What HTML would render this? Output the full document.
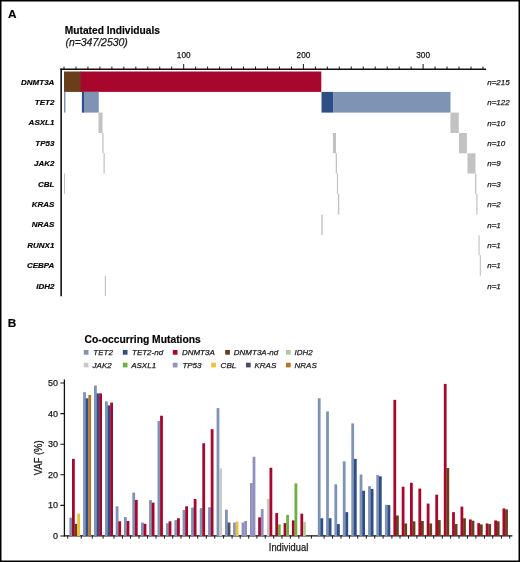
<!DOCTYPE html>
<html lang="en"><head><meta charset="utf-8"><title>Figure</title>
<style>html,body{margin:0;padding:0;background:#fff}svg{display:block}text{stroke:#1a1a1a;stroke-width:2.5px;stroke-linejoin:round}text[font-weight=bold]{stroke-width:2px}</style></head>
<body>
<svg width="520" height="562" viewBox="0 0 520 562">
<rect x="0" y="0" width="520" height="562" fill="#fff"/>
<rect x="0.75" y="0.75" width="518.5" height="560.5" fill="none" stroke="#000" stroke-width="1.5"/>
<g font-family="Liberation Sans, Arial, Helvetica, sans-serif" fill="#1a1a1a">
<text transform="translate(8.1 18.4) scale(.1)" font-size="118" font-weight="bold" fill="#000">A</text>
<text transform="translate(7.8 327.3) scale(.1)" font-size="118" font-weight="bold" fill="#000">B</text>
<text transform="translate(64.8 33.6) scale(.1)" font-size="102" font-weight="bold" fill="#000">Mutated Individuals</text>
<text transform="translate(65.4 46) scale(.1)" font-size="105" font-style="italic" textLength="624.0" lengthAdjust="spacingAndGlyphs">(n=347/2530)</text>
<g stroke="#111" fill="none">
<path d="M61.15 68.6V296.3" stroke-width="1.6"/>
<path d="M60.35 69.25H486" stroke-width="1.3"/>
<path d="M64.00 66.6V69.3M75.97 66.6V69.3M87.94 66.6V69.3M99.91 66.6V69.3M111.88 66.6V69.3M123.85 66.6V69.3M135.82 66.6V69.3M147.79 66.6V69.3M159.76 66.6V69.3M171.73 66.6V69.3M183.70 64V69.3M195.67 66.6V69.3M207.64 66.6V69.3M219.61 66.6V69.3M231.58 66.6V69.3M243.55 66.6V69.3M255.52 66.6V69.3M267.49 66.6V69.3M279.46 66.6V69.3M291.43 66.6V69.3M303.40 64V69.3M315.37 66.6V69.3M327.34 66.6V69.3M339.31 66.6V69.3M351.28 66.6V69.3M363.25 66.6V69.3M375.22 66.6V69.3M387.19 66.6V69.3M399.16 66.6V69.3M411.13 66.6V69.3M423.10 64V69.3M435.07 66.6V69.3M447.04 66.6V69.3M459.01 66.6V69.3M470.98 66.6V69.3M482.95 66.6V69.3" stroke-width="1"/>
</g>
<text transform="translate(183.70 58.1) scale(.1)" font-size="82" text-anchor="middle">100</text>
<text transform="translate(303.40 58.1) scale(.1)" font-size="82" text-anchor="middle">200</text>
<text transform="translate(423.10 58.1) scale(.1)" font-size="82" text-anchor="middle">300</text>
<text transform="translate(54.4 84.50) scale(.1)" font-size="80" font-weight="bold" font-style="italic" text-anchor="end" fill="#000">DNMT3A</text>
<text transform="translate(487.2 84.70) scale(.1)" font-size="80" font-style="italic">n=215</text>
<text transform="translate(54.4 104.90) scale(.1)" font-size="80" font-weight="bold" font-style="italic" text-anchor="end" fill="#000">TET2</text>
<text transform="translate(487.2 105.10) scale(.1)" font-size="80" font-style="italic">n=122</text>
<text transform="translate(54.4 125.30) scale(.1)" font-size="80" font-weight="bold" font-style="italic" text-anchor="end" fill="#000">ASXL1</text>
<text transform="translate(487.2 125.50) scale(.1)" font-size="80" font-style="italic">n=10</text>
<text transform="translate(54.4 145.70) scale(.1)" font-size="80" font-weight="bold" font-style="italic" text-anchor="end" fill="#000">TP53</text>
<text transform="translate(487.2 145.90) scale(.1)" font-size="80" font-style="italic">n=10</text>
<text transform="translate(54.4 166.10) scale(.1)" font-size="80" font-weight="bold" font-style="italic" text-anchor="end" fill="#000">JAK2</text>
<text transform="translate(487.2 166.30) scale(.1)" font-size="80" font-style="italic">n=9</text>
<text transform="translate(54.4 186.50) scale(.1)" font-size="80" font-weight="bold" font-style="italic" text-anchor="end" fill="#000">CBL</text>
<text transform="translate(487.2 186.70) scale(.1)" font-size="80" font-style="italic">n=3</text>
<text transform="translate(54.4 206.90) scale(.1)" font-size="80" font-weight="bold" font-style="italic" text-anchor="end" fill="#000">KRAS</text>
<text transform="translate(487.2 207.10) scale(.1)" font-size="80" font-style="italic">n=2</text>
<text transform="translate(54.4 227.30) scale(.1)" font-size="80" font-weight="bold" font-style="italic" text-anchor="end" fill="#000">NRAS</text>
<text transform="translate(487.2 227.50) scale(.1)" font-size="80" font-style="italic">n=1</text>
<text transform="translate(54.4 247.70) scale(.1)" font-size="80" font-weight="bold" font-style="italic" text-anchor="end" fill="#000">RUNX1</text>
<text transform="translate(487.2 247.90) scale(.1)" font-size="80" font-style="italic">n=1</text>
<text transform="translate(54.4 268.10) scale(.1)" font-size="80" font-weight="bold" font-style="italic" text-anchor="end" fill="#000">CEBPA</text>
<text transform="translate(487.2 268.30) scale(.1)" font-size="80" font-style="italic">n=1</text>
<text transform="translate(54.4 288.50) scale(.1)" font-size="80" font-weight="bold" font-style="italic" text-anchor="end" fill="#000">IDH2</text>
<text transform="translate(487.2 288.70) scale(.1)" font-size="80" font-style="italic">n=1</text>
<rect x="80" y="71.50" width="241.30" height="20.40" fill="#A7072C"/>
<rect x="64" y="71.50" width="16.70" height="20.40" fill="#6A3E1B"/>
<rect x="64" y="91.90" width="1.50" height="20.70" fill="#7F93B5"/>
<rect x="81.9" y="91.90" width="2.20" height="20.70" fill="#2F4D86"/>
<rect x="84" y="91.90" width="14.75" height="20.70" fill="#7F93B5"/>
<rect x="321.5" y="91.90" width="11.70" height="20.70" fill="#2F4D86"/>
<rect x="333.1" y="91.90" width="117.40" height="20.70" fill="#7F93B5"/>
<rect x="98.5" y="112.60" width="4.00" height="20.40" fill="#C2C2C4"/>
<rect x="450.4" y="112.60" width="8.35" height="20.40" fill="#C2C2C4"/>
<rect x="102.3" y="133.00" width="1.30" height="20.30" fill="#C2C2C4"/>
<rect x="332.9" y="133.00" width="3.10" height="20.30" fill="#C2C2C4"/>
<rect x="459" y="133.00" width="7.90" height="20.30" fill="#C2C2C4"/>
<rect x="103.5" y="153.30" width="1.25" height="20.20" fill="#C2C2C4"/>
<rect x="335.7" y="153.30" width="1.30" height="20.20" fill="#C2C2C4"/>
<rect x="467.5" y="153.30" width="8.00" height="20.20" fill="#C2C2C4"/>
<rect x="64" y="173.50" width="1.00" height="20.30" fill="#C2C2C4"/>
<rect x="336.9" y="173.50" width="1.20" height="20.30" fill="#C2C2C4"/>
<rect x="475.1" y="173.50" width="1.30" height="20.30" fill="#C2C2C4"/>
<rect x="337.9" y="193.80" width="1.40" height="20.90" fill="#C2C2C4"/>
<rect x="476.3" y="193.80" width="1.20" height="20.90" fill="#C2C2C4"/>
<rect x="321.3" y="214.70" width="1.40" height="20.50" fill="#C2C2C4"/>
<rect x="478.5" y="235.20" width="1.10" height="19.90" fill="#C2C2C4"/>
<rect x="479.75" y="255.10" width="1.15" height="20.70" fill="#C2C2C4"/>
<rect x="104.8" y="275.80" width="1.20" height="20.20" fill="#C2C2C4"/>
<text transform="translate(84.6 342.6) scale(.1)" font-size="103" font-weight="bold" fill="#000">Co-occurring Mutations</text>
<rect x="83.8" y="350" width="4.7" height="4.7" fill="#7F93B5"/>
<text transform="translate(93.3 355.1) scale(.1)" font-size="80" font-style="italic">TET2</text>
<rect x="122.8" y="350" width="4.7" height="4.7" fill="#2F4D86"/>
<text transform="translate(132 355.1) scale(.1)" font-size="80" font-style="italic">TET2-nd</text>
<rect x="172.8" y="350" width="4.7" height="4.7" fill="#A7072C"/>
<text transform="translate(181.9 355.1) scale(.1)" font-size="80" font-style="italic">DNMT3A</text>
<rect x="225.2" y="350" width="4.7" height="4.7" fill="#6A3E1B"/>
<text transform="translate(233.8 355.1) scale(.1)" font-size="80" font-style="italic">DNMT3A-nd</text>
<rect x="286" y="350" width="4.7" height="4.7" fill="#B4C79A"/>
<text transform="translate(294.5 355.1) scale(.1)" font-size="80" font-style="italic">IDH2</text>
<rect x="83.8" y="362.7" width="4.7" height="4.7" fill="#C9C9CB"/>
<text transform="translate(92.6 367.6) scale(.1)" font-size="80" font-style="italic">JAK2</text>
<rect x="122.8" y="362.7" width="4.7" height="4.7" fill="#6FAE45"/>
<text transform="translate(131.2 367.6) scale(.1)" font-size="80" font-style="italic">ASXL1</text>
<rect x="172.8" y="362.7" width="4.7" height="4.7" fill="#8F90BD"/>
<text transform="translate(182.4 367.6) scale(.1)" font-size="80" font-style="italic">TP53</text>
<rect x="211.2" y="362.7" width="4.7" height="4.7" fill="#EAC435"/>
<text transform="translate(220.6 367.6) scale(.1)" font-size="80" font-style="italic">CBL</text>
<rect x="246" y="362.7" width="4.7" height="4.7" fill="#4B4E62"/>
<text transform="translate(254.5 367.6) scale(.1)" font-size="80" font-style="italic">KRAS</text>
<rect x="286" y="362.7" width="4.7" height="4.7" fill="#B5752E"/>
<text transform="translate(294.5 367.6) scale(.1)" font-size="80" font-style="italic">NRAS</text>
<g stroke="#111" fill="none">
<path d="M64.4 379.5V536.4" stroke-width="1.3"/>
<path d="M64 535.8H512.4" stroke-width="1.3"/>
<path d="M60.4 536.00H64.4M60.4 505.40H64.4M60.4 474.80H64.4M60.4 444.20H64.4M60.4 413.60H64.4M60.4 383.00H64.4" stroke-width="1.1"/>
<path d="M67.75 535.8V538.7M81.25 535.8V538.7M92.25 535.8V538.7M103.1 535.8V538.7M114 535.8V538.7M122.4 535.8V538.7M130.6 535.8V538.7M139 535.8V538.7M147.6 535.8V538.7M156 535.8V538.7M164.4 535.8V538.7M172.75 535.8V538.7M181 535.8V538.7M189.4 535.8V538.7M197.75 535.8V538.7M206.25 535.8V538.7M214.75 535.8V538.7M223.6 535.8V538.7M232.1 535.8V538.7M240.2 535.8V538.7M248.7 535.8V538.7M256.9 535.8V538.7M265.25 535.8V538.7M273.75 535.8V538.7M282 535.8V538.7M290.4 535.8V538.7M298.8 535.8V538.7M311.4 535.8V538.7M324.1 535.8V538.7M332.5 535.8V538.7M341 535.8V538.7M349.4 535.8V538.7M357.75 535.8V538.7M366.25 535.8V538.7M374.75 535.8V538.7M383.1 535.8V538.7M391.9 535.8V538.7M400 535.8V538.7M408.5 535.8V538.7M416.9 535.8V538.7M425.4 535.8V538.7M433.75 535.8V538.7M442.25 535.8V538.7M450.7 535.8V538.7M459 535.8V538.7M467.5 535.8V538.7M475.9 535.8V538.7M484.4 535.8V538.7M492.75 535.8V538.7M501.4 535.8V538.7M509.75 535.8V538.7" stroke-width="0.95"/>
</g>
<text transform="translate(58 539.00) scale(.1)" font-size="90" text-anchor="end">0</text>
<text transform="translate(58 508.40) scale(.1)" font-size="90" text-anchor="end">10</text>
<text transform="translate(58 477.80) scale(.1)" font-size="90" text-anchor="end">20</text>
<text transform="translate(58 447.20) scale(.1)" font-size="90" text-anchor="end">30</text>
<text transform="translate(58 416.60) scale(.1)" font-size="90" text-anchor="end">40</text>
<text transform="translate(58 386.00) scale(.1)" font-size="90" text-anchor="end">50</text>
<text transform="translate(42.2 457.8) rotate(-90) scale(.1)" font-size="100" text-anchor="middle" textLength="348.0" lengthAdjust="spacingAndGlyphs">VAF (%)</text>
<text transform="translate(288.5 551.3) scale(.1)" font-size="100" text-anchor="middle" textLength="394.0" lengthAdjust="spacingAndGlyphs">Individual</text>
<rect x="69.40" y="517.64" width="2.8" height="18.36" fill="#7F93B5"/>
<rect x="72.00" y="458.89" width="2.8" height="77.11" fill="#A7072C"/>
<rect x="74.60" y="523.76" width="2.8" height="12.24" fill="#6A3E1B"/>
<rect x="77.20" y="513.66" width="2.8" height="22.34" fill="#EAC435"/>
<rect x="83.10" y="392.18" width="2.8" height="143.82" fill="#7F93B5"/>
<rect x="85.70" y="398.30" width="2.8" height="137.70" fill="#2F4D86"/>
<rect x="88.30" y="394.93" width="2.8" height="141.07" fill="#B5752E"/>
<rect x="94.00" y="385.45" width="2.8" height="150.55" fill="#7F93B5"/>
<rect x="96.60" y="393.40" width="2.8" height="142.60" fill="#2F4D86"/>
<rect x="99.20" y="393.40" width="2.8" height="142.60" fill="#A7072C"/>
<rect x="105.00" y="401.36" width="2.8" height="134.64" fill="#7F93B5"/>
<rect x="107.60" y="405.34" width="2.8" height="130.66" fill="#2F4D86"/>
<rect x="110.20" y="402.58" width="2.8" height="133.42" fill="#A7072C"/>
<rect x="115.70" y="506.32" width="2.8" height="29.68" fill="#7F93B5"/>
<rect x="118.30" y="521.31" width="2.8" height="14.69" fill="#A7072C"/>
<rect x="124.00" y="517.03" width="2.8" height="18.97" fill="#7F93B5"/>
<rect x="126.60" y="521.01" width="2.8" height="14.99" fill="#A7072C"/>
<rect x="132.30" y="492.55" width="2.8" height="43.45" fill="#7F93B5"/>
<rect x="134.90" y="499.89" width="2.8" height="36.11" fill="#A7072C"/>
<rect x="141.00" y="522.54" width="2.8" height="13.46" fill="#7F93B5"/>
<rect x="143.60" y="523.76" width="2.8" height="12.24" fill="#A7072C"/>
<rect x="149.10" y="500.20" width="2.8" height="35.80" fill="#7F93B5"/>
<rect x="151.70" y="502.65" width="2.8" height="33.35" fill="#A7072C"/>
<rect x="157.50" y="420.94" width="2.8" height="115.06" fill="#7F93B5"/>
<rect x="160.10" y="415.74" width="2.8" height="120.26" fill="#A7072C"/>
<rect x="166.00" y="523.15" width="2.8" height="12.85" fill="#7F93B5"/>
<rect x="168.60" y="521.31" width="2.8" height="14.69" fill="#A7072C"/>
<rect x="174.40" y="520.09" width="2.8" height="15.91" fill="#7F93B5"/>
<rect x="177.00" y="518.25" width="2.8" height="17.75" fill="#A7072C"/>
<rect x="182.60" y="509.99" width="2.8" height="26.01" fill="#7F93B5"/>
<rect x="185.20" y="506.32" width="2.8" height="29.68" fill="#A7072C"/>
<rect x="191.10" y="507.54" width="2.8" height="28.46" fill="#7F93B5"/>
<rect x="193.70" y="498.97" width="2.8" height="37.03" fill="#A7072C"/>
<rect x="199.70" y="508.15" width="2.8" height="27.85" fill="#7F93B5"/>
<rect x="202.30" y="443.28" width="2.8" height="92.72" fill="#A7072C"/>
<rect x="208.10" y="507.24" width="2.8" height="28.76" fill="#7F93B5"/>
<rect x="210.70" y="429.21" width="2.8" height="106.79" fill="#A7072C"/>
<rect x="216.60" y="408.09" width="2.8" height="127.91" fill="#7F93B5"/>
<rect x="219.20" y="468.37" width="2.8" height="67.63" fill="#C9C9CB"/>
<rect x="225.00" y="509.68" width="2.8" height="26.32" fill="#7F93B5"/>
<rect x="227.60" y="522.54" width="2.8" height="13.46" fill="#4B4E62"/>
<rect x="233.10" y="522.54" width="2.8" height="13.46" fill="#8F90BD"/>
<rect x="235.70" y="521.62" width="2.8" height="14.38" fill="#EAC435"/>
<rect x="241.60" y="522.54" width="2.8" height="13.46" fill="#8F90BD"/>
<rect x="244.20" y="521.01" width="2.8" height="14.99" fill="#8F90BD"/>
<rect x="250.00" y="483.06" width="2.8" height="52.94" fill="#8F90BD"/>
<rect x="252.60" y="456.75" width="2.8" height="79.25" fill="#8F90BD"/>
<rect x="258.20" y="517.33" width="2.8" height="18.67" fill="#A7072C"/>
<rect x="260.80" y="509.07" width="2.8" height="26.93" fill="#8F90BD"/>
<rect x="266.90" y="498.97" width="2.8" height="37.03" fill="#C9C9CB"/>
<rect x="269.50" y="467.76" width="2.8" height="68.24" fill="#A7072C"/>
<rect x="275.30" y="513.05" width="2.8" height="22.95" fill="#A7072C"/>
<rect x="277.90" y="524.37" width="2.8" height="11.63" fill="#6FAE45"/>
<rect x="283.60" y="523.15" width="2.8" height="12.85" fill="#A7072C"/>
<rect x="286.20" y="514.89" width="2.8" height="21.11" fill="#6FAE45"/>
<rect x="291.90" y="520.39" width="2.8" height="15.61" fill="#A7072C"/>
<rect x="294.50" y="483.37" width="2.8" height="52.63" fill="#6FAE45"/>
<rect x="300.40" y="513.66" width="2.8" height="22.34" fill="#A7072C"/>
<rect x="303.00" y="521.92" width="2.8" height="14.08" fill="#B4C79A"/>
<rect x="317.80" y="398.30" width="2.8" height="137.70" fill="#7F93B5"/>
<rect x="320.40" y="518.25" width="2.8" height="17.75" fill="#2F4D86"/>
<rect x="326.10" y="411.46" width="2.8" height="124.54" fill="#7F93B5"/>
<rect x="328.70" y="518.25" width="2.8" height="17.75" fill="#2F4D86"/>
<rect x="334.40" y="484.29" width="2.8" height="51.71" fill="#7F93B5"/>
<rect x="337.00" y="524.07" width="2.8" height="11.93" fill="#2F4D86"/>
<rect x="342.80" y="461.34" width="2.8" height="74.66" fill="#7F93B5"/>
<rect x="345.40" y="512.13" width="2.8" height="23.87" fill="#2F4D86"/>
<rect x="351.30" y="423.39" width="2.8" height="112.61" fill="#7F93B5"/>
<rect x="353.90" y="458.89" width="2.8" height="77.11" fill="#2F4D86"/>
<rect x="359.60" y="474.49" width="2.8" height="61.51" fill="#7F93B5"/>
<rect x="362.20" y="490.71" width="2.8" height="45.29" fill="#2F4D86"/>
<rect x="368.10" y="486.12" width="2.8" height="49.88" fill="#7F93B5"/>
<rect x="370.70" y="488.88" width="2.8" height="47.12" fill="#2F4D86"/>
<rect x="376.30" y="475.11" width="2.8" height="60.89" fill="#7F93B5"/>
<rect x="378.90" y="476.33" width="2.8" height="59.67" fill="#2F4D86"/>
<rect x="384.90" y="504.79" width="2.8" height="31.21" fill="#7F93B5"/>
<rect x="387.50" y="505.09" width="2.8" height="30.91" fill="#2F4D86"/>
<rect x="393.40" y="399.83" width="2.8" height="136.17" fill="#A7072C"/>
<rect x="396.00" y="515.50" width="2.8" height="20.50" fill="#6A3E1B"/>
<rect x="401.70" y="486.73" width="2.8" height="49.27" fill="#A7072C"/>
<rect x="404.30" y="523.45" width="2.8" height="12.55" fill="#6A3E1B"/>
<rect x="410.00" y="482.76" width="2.8" height="53.24" fill="#A7072C"/>
<rect x="412.60" y="521.31" width="2.8" height="14.69" fill="#6A3E1B"/>
<rect x="418.40" y="488.57" width="2.8" height="47.43" fill="#A7072C"/>
<rect x="421.00" y="521.01" width="2.8" height="14.99" fill="#6A3E1B"/>
<rect x="426.70" y="503.56" width="2.8" height="32.44" fill="#A7072C"/>
<rect x="429.30" y="523.45" width="2.8" height="12.55" fill="#6A3E1B"/>
<rect x="435.30" y="494.69" width="2.8" height="41.31" fill="#A7072C"/>
<rect x="437.90" y="520.09" width="2.8" height="15.91" fill="#6A3E1B"/>
<rect x="443.80" y="383.92" width="2.8" height="152.08" fill="#A7072C"/>
<rect x="446.40" y="468.07" width="2.8" height="67.93" fill="#6A3E1B"/>
<rect x="452.10" y="512.13" width="2.8" height="23.87" fill="#A7072C"/>
<rect x="454.70" y="524.07" width="2.8" height="11.93" fill="#6A3E1B"/>
<rect x="460.50" y="506.62" width="2.8" height="29.38" fill="#A7072C"/>
<rect x="463.10" y="518.25" width="2.8" height="17.75" fill="#6A3E1B"/>
<rect x="469.00" y="519.48" width="2.8" height="16.52" fill="#A7072C"/>
<rect x="471.60" y="520.70" width="2.8" height="15.30" fill="#6A3E1B"/>
<rect x="477.30" y="523.15" width="2.8" height="12.85" fill="#A7072C"/>
<rect x="479.90" y="524.37" width="2.8" height="11.63" fill="#6A3E1B"/>
<rect x="485.70" y="523.45" width="2.8" height="12.55" fill="#A7072C"/>
<rect x="488.30" y="524.07" width="2.8" height="11.93" fill="#6A3E1B"/>
<rect x="494.20" y="520.39" width="2.8" height="15.61" fill="#A7072C"/>
<rect x="496.80" y="521.31" width="2.8" height="14.69" fill="#6A3E1B"/>
<rect x="502.50" y="508.46" width="2.8" height="27.54" fill="#A7072C"/>
<rect x="505.10" y="509.38" width="2.8" height="26.62" fill="#6A3E1B"/>
</g>
</svg>
</body></html>
